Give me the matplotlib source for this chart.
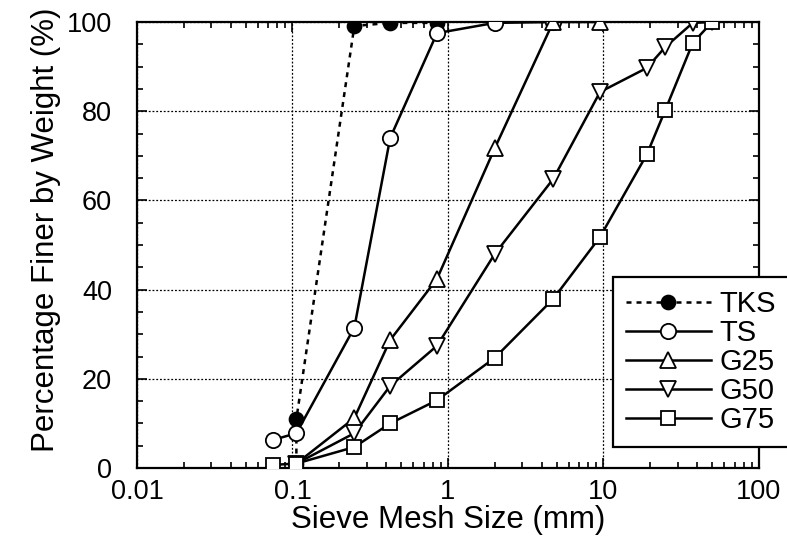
import numpy as np
import matplotlib
matplotlib.use('Agg')
import matplotlib.pyplot as plt
from matplotlib.ticker import LogLocator, MultipleLocator, FixedLocator

# sieve sizes (mm) and percentage passing for each material
tks_size = [0.106, 0.106, 0.25, 0.425, 0.85]
tks_pass = [1.0, 11.0, 99.1, 99.8, 99.8]

ts_size = [0.075, 0.106, 0.25, 0.425, 0.85, 2.0, 4.75]
ts_pass = [6.3, 7.8, 31.5, 74.0, 97.5, 99.8, 100.0]

g25_size = [0.106, 0.25, 0.425, 0.85, 2.0, 4.75, 9.5]
g25_pass = [1.0, 11.2, 28.7, 42.4, 71.7, 100.0, 100.0]

g50_size = [0.106, 0.25, 0.425, 0.85, 2.0, 4.75, 9.5, 19.0, 25.0, 37.5, 50.0]
g50_pass = [1.0, 7.8, 18.4, 27.4, 48.0, 64.8, 84.3, 89.7, 94.4, 99.8, 100.0]

g75_size = [0.075, 0.106, 0.25, 0.425, 0.85, 2.0, 4.75, 9.5, 19.0, 25.0, 37.5, 50.0]
g75_pass = [0.7, 1.0, 4.7, 10.0, 15.2, 24.7, 37.9, 51.8, 70.3, 80.3, 95.3, 100.0]

x_ticks = [0.01, 0.1, 1, 10, 100]
x_labels = ['0.01', '0.1', '1', '10', '100']
y_ticks = [0, 20, 40, 60, 80, 100]

plt.rcParams['font.family'] = ['Liberation Sans', 'DejaVu Sans']
plt.rcParams['font.size'] = 19.5

fig = plt.figure(figsize=(7.87, 5.54), dpi=100)
ax = fig.add_axes([0.174, 0.1552, 0.7904, 0.8051])

lw = 1.8
ms = dict(markeredgecolor='black', markeredgewidth=1.3, color='black', linewidth=lw)
ax.plot(tks_size, tks_pass, linestyle=(0, (2, 2)), marker='o', markersize=10,
        markerfacecolor='black', label='TKS', zorder=3, **ms)
ax.plot(ts_size, ts_pass, '-', marker='o', markersize=11,
        markerfacecolor='white', label='TS', zorder=4, **ms)
ax.plot(g25_size, g25_pass, '-', marker='^', markersize=11,
        markerfacecolor='white', label='G25', zorder=5, **ms)
ax.plot(g50_size, g50_pass, '-', marker='v', markersize=11,
        markerfacecolor='white', label='G50', zorder=6, **ms)
ax.plot(g75_size, g75_pass, '-', marker='s', markersize=10,
        markerfacecolor='white', label='G75', zorder=7, **ms)

ax.set_xscale('log')
ax.set_xlim(0.01, 100)
ax.set_ylim(0, 100)
ax.xaxis.set_major_locator(FixedLocator(x_ticks))
ax.set_xticklabels(x_labels)
ax.xaxis.set_minor_locator(LogLocator(base=10, subs=np.arange(2, 10)))
ax.yaxis.set_major_locator(FixedLocator(y_ticks))
ax.yaxis.set_minor_locator(MultipleLocator(5))

ax.tick_params(which='both', direction='in', top=True, right=True, width=1.2,
               labelsize=19.5)
ax.tick_params(which='major', length=7, pad=8)
ax.tick_params(which='minor', length=4.5)
ax.tick_params(axis='y', which='major', pad=18)
for s in ax.spines.values():
    s.set_linewidth(1.6)

ax.grid(True, which='major', color='black', linestyle=(0, (1.5, 1.5)), linewidth=0.9)

ax.set_xlabel('Sieve Mesh Size (mm)', fontsize=22.5, labelpad=0)
ax.set_ylabel('Percentage Finer by Weight (%)', fontsize=22.5, labelpad=4)
ax.yaxis.label.set_y(0.534)

leg = ax.legend(loc='upper left', bbox_to_anchor=(0.765, 0.428), frameon=True,
                fancybox=False, edgecolor='black', framealpha=1, fontsize=21,
                handlelength=2.9, handletextpad=0.3, labelspacing=0.03,
                borderpad=0.45, borderaxespad=0)
leg.get_frame().set_linewidth(1.6)
leg.set_zorder(10)

fig.savefig('out.png', dpi=100)
